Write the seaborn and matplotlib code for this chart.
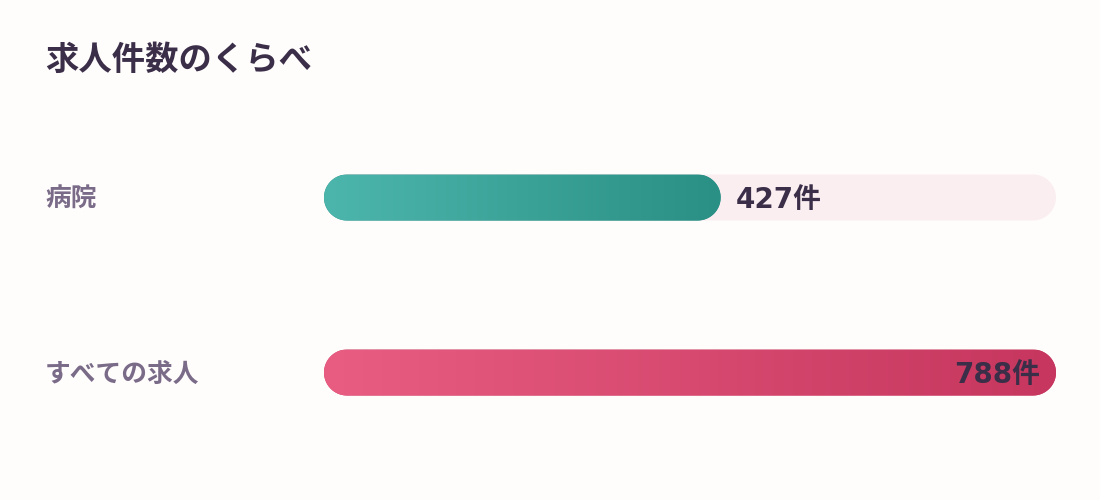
import matplotlib
matplotlib.use("Agg")
import matplotlib.pyplot as plt
import matplotlib.transforms as mtransforms
from matplotlib.colors import LinearSegmentedColormap
from matplotlib.patches import Polygon
import numpy as np
import seaborn as sns

TITLE = "求人件数のくらべ"
labels = ["病院", "すべての求人"]
counts = [427, 788]
unit = "件"
gradients = [("#4db6ac", "#2a8f85"), ("#e95d82", "#c6365e")]

BG = "#fffdfc"
TRACK = "#fbeef1"
DARK = "#3b2e48"
MUTED = "#7a6b88"

sns.set_theme(style="white")
plt.rcParams["font.family"] = ["DejaVu Sans", "Noto Sans CJK JP"]


def pill(x0, y0, w, h, r_x, **kw):
    # capsule shape: straight middle with elliptical (round on screen) ends
    r_y = h / 2
    yc = y0 + r_y
    t = np.linspace(-np.pi / 2, np.pi / 2, 40)
    right = np.column_stack([x0 + w - r_x + r_x * np.cos(t), yc + r_y * np.sin(t)])
    t2 = np.linspace(np.pi / 2, 3 * np.pi / 2, 40)
    left = np.column_stack([x0 + r_x + r_x * np.cos(t2), yc + r_y * np.sin(t2)])
    return Polygon(np.vstack([right, left]), closed=True, **kw)


fig = plt.figure(figsize=(11, 5), dpi=100, facecolor=BG)
ax = fig.add_axes([324 / 1100, 40 / 500, 732 / 1100, 350 / 500])
ax.set_facecolor(BG)

bar_w = 46 / 175
sns.barplot(x=counts, y=labels, orient="h", width=bar_w, ax=ax)
xmax = max(counts)
ax.set_xlim(0, xmax)
ax.set_ylim(1.5, -0.5)
ax.axis("off")

# data units per pixel, used for the rounded ends
px_x = xmax / ax.bbox.width
px_y = 2.0 / ax.bbox.height

patches = list(ax.patches)
for i, p in enumerate(patches):
    x0, y0, w, h = p.get_x(), p.get_y(), p.get_width(), p.get_height()
    p.remove()
    r_x = (h / px_y / 2) * px_x

    ax.add_patch(pill(0, y0, xmax, h, r_x, facecolor=TRACK, edgecolor="none", zorder=1))

    c0, c1 = gradients[i]
    bar = pill(x0, y0, w, h, r_x, facecolor=c1, edgecolor="none", zorder=2)
    ax.add_patch(bar)
    cmap = LinearSegmentedColormap.from_list(f"g{i}", [c0, c1])
    im = ax.imshow(np.linspace(0, 1, 256).reshape(1, -1), cmap=cmap, aspect="auto",
                   extent=(x0, x0 + w, y0 + h, y0), zorder=3, interpolation="bilinear")
    im.set_clip_path(bar)

    txt = f"{counts[i]}{unit}"
    yc = y0 + h / 2
    if counts[i] / xmax > 0.85:
        ax.annotate(txt, (x0 + w, yc), xytext=(-11.5, -1.8), textcoords="offset points",
                    ha="right", va="center", fontsize=20, fontweight="bold", color=DARK, zorder=4)
    else:
        ax.annotate(txt, (x0 + w, yc), xytext=(10.8, -1.8), textcoords="offset points",
                    ha="left", va="center", fontsize=20, fontweight="bold", color=DARK, zorder=4)

ax.set_xlim(0, xmax)
ax.set_ylim(1.5, -0.5)

trans = mtransforms.blended_transform_factory(fig.transFigure, ax.transData)
for i, lab in enumerate(labels):
    ax.annotate(lab, (45 / 1100, i), xycoords=trans, xytext=(0, -1.8), textcoords="offset points",
                ha="left", va="center", fontsize=18.5, fontweight="bold", color=MUTED,
                annotation_clip=False)

fig.text(45 / 1100, 1 - 60 / 500, TITLE, ha="left", va="center",
         fontsize=24, fontweight="bold", color=DARK)

fig.savefig("out.png", dpi=100, facecolor=BG)
